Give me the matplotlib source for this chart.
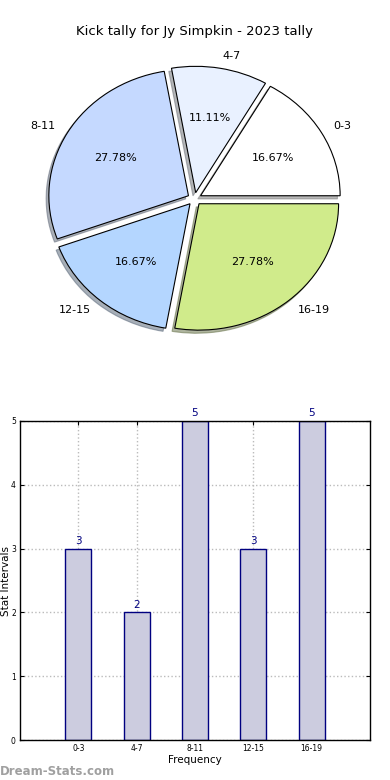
import numpy as np
import matplotlib
matplotlib.use("Agg")
import matplotlib.pyplot as plt

# data
categories = ["0-3", "4-7", "8-11", "12-15", "16-19"]
counts = [3, 2, 5, 3, 5]
pie_colors = ["#ffffff", "#e9f1ff", "#c5d9ff", "#b4d6ff", "#d0eb8b"]
title = "Kick tally for Jy Simpkin - 2023 tally"

fig = plt.figure(figsize=(3.9, 7.8), dpi=100)

# pie (old style, not forced to equal aspect -> slightly elliptical)
ax1 = fig.add_axes([20 / 390, 0.5425, 349 / 390, 0.405])
wedges, texts, autotexts = ax1.pie(counts, labels=categories, colors=pie_colors,
                                   explode=[0.05] * len(counts),
                                   shadow=dict(ox=-0.014, oy=-0.018, shade=0.55),
                                   autopct="%1.2f%%", startangle=0,
                                   wedgeprops=dict(edgecolor="black", linewidth=0.8),
                                   textprops=dict(fontsize=8))
ax1.set_aspect("auto")
ax1.set_xlim(-1.25, 1.25)
ax1.set_ylim(-1.25, 1.25)
ax1.set_title(title, fontsize=9.5, pad=4)

# bar chart
ax2 = fig.add_axes([20 / 390, 40 / 780, 350 / 390, 319 / 780])
x = np.arange(len(categories))
ax2.bar(x, counts, width=0.45, color="#ccccdf", edgecolor="#000080", linewidth=1, zorder=2)
for xi, c in zip(x, counts):
    ax2.text(xi, c + 0.04, str(c), ha="center", va="bottom", color="#000080", fontsize=7.5)
ax2.set_xlim(-1, 5)
ax2.set_ylim(0, 5)
ax2.set_xticks(x)
ax2.set_xticklabels(categories)
ax2.set_yticks(range(6))
ax2.tick_params(direction="in", top=True, right=True, labelsize=5.5, length=3, pad=3)
ax2.grid(True, linestyle=":", color="#bbbbbb", linewidth=1, zorder=0)
ax2.set_axisbelow(True)
ax2.set_xlabel("Frequency", fontsize=7.5, labelpad=1)
ax2.set_ylabel("Stat Intervals", fontsize=7.5)
ax2.yaxis.set_label_coords(-0.027, 0.5)
for s in ax2.spines.values():
    s.set_linewidth(1)

fig.text(0.0, 0.003, "Dream-Stats.com", color="#a0a0a0", fontsize=8.5,
         fontweight="bold", ha="left", va="bottom")

fig.savefig("out.png", dpi=100)
